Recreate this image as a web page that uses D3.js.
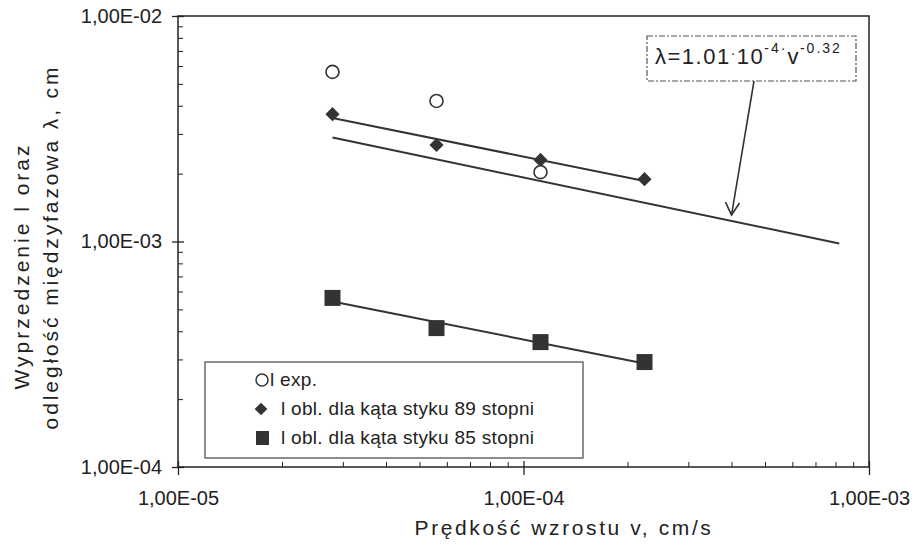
<!DOCTYPE html>
<html>
<head>
<meta charset="utf-8">
<script src="https://cdn.jsdelivr.net/npm/d3@7"></script>
<style>
  html, body { margin: 0; padding: 0; background: #fff; }
  svg { display: block; font-family: Arial, "Liberation Sans", sans-serif; }
</style>
</head>
<body>
<svg id="chart" width="916" height="544"></svg>
<script>
// ---- data ----
const velocities = [2.8e-5, 5.6e-5, 1.12e-4, 2.24e-4];      // v, cm/s
const lExp = [5.65e-3, 4.2e-3, 2.03e-3];                    // l exp. (first three v)
const lCalc89 = [3.67e-3, 2.68e-3, 2.30e-3, 1.89e-3];       // l obl. 89 stopni
const lCalc85 = [5.62e-4, 4.13e-4, 3.58e-4, 2.92e-4];       // l obl. 85 stopni
const modelV = [2.8e-5, 8.2e-4];                            // λ = 1.01e-4 v^-0.32 line ends
const modelLambda = [2.89e-3, 9.8e-4];
const arrowTip = [4.0e-4, 1.31e-3];
const xTicks = [1e-5, 1e-4, 1e-3];
const xTickLabels = ["1,00E-05", "1,00E-04", "1,00E-03"];
const yTicks = [1e-4, 1e-3, 1e-2];
const yTickLabels = ["1,00E-04", "1,00E-03", "1,00E-02"];
const legendLabels = ["l exp.", "l obl. dla kąta styku 89 stopni", "l obl. dla kąta styku 85 stopni"];
const xTitle = "Prędkość wzrostu v, cm/s";
const yTitle = ["Wyprzedzenie l oraz", "odległość międzyfazowa λ, cm"];

// ---- layout ----
const svg = d3.select("#chart");
const L = 178, R = 869, T = 16, B = 467;
const ink = "#222";
const x = d3.scaleLog().domain([1e-5, 1e-3]).range([L, R]);
const y = d3.scaleLog().domain([1e-4, 1e-2]).range([B, T]);

// minor ticks
const minorX = [], minorY = [];
[1e-5, 1e-4].forEach(d => { for (let k = 2; k <= 9; k++) minorX.push(d * k); });
[1e-4, 1e-3].forEach(d => { for (let k = 2; k <= 9; k++) minorY.push(d * k); });

// frame
svg.append("rect").attr("x", L).attr("y", T).attr("width", R - L).attr("height", B - T)
  .attr("fill", "none").attr("stroke", ink).attr("stroke-width", 1.5);

// x axis
const gx = svg.append("g").attr("transform", `translate(0,${B})`)
  .call(d3.axisBottom(x).tickValues(xTicks).tickFormat((d, i) => xTickLabels[i])
    .tickSizeInner(8).tickSizeOuter(0).tickPadding(16));
gx.select(".domain").remove();
gx.selectAll(".tick line").attr("y1", -6).attr("y2", 8).attr("stroke", ink).attr("stroke-width", 1.3);
gx.selectAll(".tick text").attr("font-size", 20).attr("fill", ink).attr("font-family", "Arial, 'Liberation Sans', sans-serif");
const gxm = svg.append("g").attr("transform", `translate(0,${B})`)
  .call(d3.axisBottom(x).tickValues(minorX).tickFormat("").tickSizeInner(-5).tickSizeOuter(0));
gxm.select(".domain").remove();
gxm.selectAll(".tick line").attr("stroke", ink);

// y axis
const gy = svg.append("g").attr("transform", `translate(${L},0)`)
  .call(d3.axisLeft(y).tickValues(yTicks).tickFormat((d, i) => yTickLabels[i])
    .tickSizeInner(6).tickSizeOuter(0).tickPadding(10));
gy.select(".domain").remove();
gy.selectAll(".tick line").attr("x1", 6).attr("x2", -6).attr("stroke", ink).attr("stroke-width", 1.3);
gy.selectAll(".tick text").attr("font-size", 20).attr("fill", ink).attr("font-family", "Arial, 'Liberation Sans', sans-serif");
const gym = svg.append("g").attr("transform", `translate(${L},0)`)
  .call(d3.axisLeft(y).tickValues(minorY).tickFormat("").tickSizeInner(-5).tickSizeOuter(0));
gym.select(".domain").remove();
gym.selectAll(".tick line").attr("stroke", ink);

// axis titles
svg.append("text").attr("x", 564).attr("y", 535).attr("text-anchor", "middle")
  .attr("font-size", 21).attr("letter-spacing", 2.6).attr("fill", ink).text(xTitle);
svg.append("text").attr("transform", "translate(29,266) rotate(-90)").attr("text-anchor", "middle")
  .attr("font-size", 21).attr("letter-spacing", 3).attr("fill", ink).text(yTitle[0]);
svg.append("text").attr("transform", "translate(58,247) rotate(-90)").attr("text-anchor", "middle")
  .attr("font-size", 21).attr("letter-spacing", 2.9).attr("fill", ink).text(yTitle[1]);

// power trend (least squares in log-log space)
function powerFit(xs, ys) {
  const lx = xs.map(Math.log10), ly = ys.map(Math.log10);
  const mx = d3.mean(lx), my = d3.mean(ly);
  const b = d3.sum(lx.map((v, i) => (v - mx) * (ly[i] - my))) / d3.sum(lx.map(v => (v - mx) ** 2));
  const a = my - b * mx;
  const ends = [xs[0], xs[xs.length - 1]];
  return ends.map(v => [v, Math.pow(10, a + b * Math.log10(v))]);
}
const line = d3.line().x(d => x(d[0])).y(d => y(d[1]));
const lineColor = "#333";

// model line
svg.append("path").datum(modelV.map((v, i) => [v, modelLambda[i]]))
  .attr("d", line).attr("fill", "none").attr("stroke", lineColor).attr("stroke-width", 2);
// fit lines
svg.append("path").datum(powerFit(velocities, lCalc89))
  .attr("d", line).attr("fill", "none").attr("stroke", lineColor).attr("stroke-width", 2);
svg.append("path").datum(powerFit(velocities, lCalc85))
  .attr("d", line).attr("fill", "none").attr("stroke", lineColor).attr("stroke-width", 2);

// markers
const markColor = "#333";
svg.selectAll(".diamond").data(velocities.map((v, i) => [v, lCalc89[i]])).enter()
  .append("path").attr("class", "diamond")
  .attr("transform", d => `translate(${x(d[0])},${y(d[1])}) rotate(45)`)
  .attr("d", "M-5,-5H5V5H-5Z").attr("fill", markColor);
svg.selectAll(".square").data(velocities.map((v, i) => [v, lCalc85[i]])).enter()
  .append("rect").attr("class", "square")
  .attr("x", d => x(d[0]) - 8).attr("y", d => y(d[1]) - 8)
  .attr("width", 16).attr("height", 16).attr("fill", markColor);
svg.selectAll(".circ").data(lExp.map((l, i) => [velocities[i], l])).enter()
  .append("circle").attr("class", "circ")
  .attr("cx", d => x(d[0])).attr("cy", d => y(d[1])).attr("r", 6.5)
  .attr("fill", "#fff").attr("stroke", markColor).attr("stroke-width", 1.6);

// annotation box + arrow
svg.append("rect").attr("x", 647).attr("y", 36).attr("width", 209).attr("height", 45)
  .attr("fill", "#fff").attr("stroke", "#555").attr("stroke-width", 1.2).attr("stroke-dasharray", "6,2,2,2");
const ann = svg.append("text").attr("x", 655).attr("y", 64).attr("font-size", 22)
  .attr("letter-spacing", 1.5).attr("fill", ink);
ann.append("tspan").text("λ=1.01");
ann.append("tspan").attr("font-size", 14).attr("dy", -6).text("·");
ann.append("tspan").attr("dy", 6).text("10");
ann.append("tspan").attr("font-size", 14).attr("dy", -11).attr("letter-spacing", 2).text("-4·");
ann.append("tspan").attr("dy", 11).text("v");
ann.append("tspan").attr("font-size", 14).attr("dy", -11).attr("letter-spacing", 2).text("-0.32");

const tx = x(arrowTip[0]), ty = y(arrowTip[1]);
svg.append("line").attr("x1", 754).attr("y1", 81).attr("x2", tx).attr("y2", ty)
  .attr("stroke", lineColor).attr("stroke-width", 1.6);
svg.append("path").attr("d", `M${tx - 6},${ty - 13}L${tx},${ty}L${tx + 8},${ty - 12}`)
  .attr("fill", "none").attr("stroke", lineColor).attr("stroke-width", 1.6);

// legend
svg.append("rect").attr("x", 205).attr("y", 362).attr("width", 378).attr("height", 96)
  .attr("fill", "#fff").attr("stroke", "#444").attr("stroke-width", 1.2);
svg.append("circle").attr("cx", 262).attr("cy", 380).attr("r", 6)
  .attr("fill", "#fff").attr("stroke", markColor).attr("stroke-width", 1.5);
svg.append("path").attr("transform", "translate(261,409) rotate(45)")
  .attr("d", "M-4.5,-4.5H4.5V4.5H-4.5Z").attr("fill", markColor);
svg.append("rect").attr("x", 256).attr("y", 431).attr("width", 13).attr("height", 14).attr("fill", markColor);
const legX = [270, 281, 281], legY = [386, 415, 444];
legendLabels.forEach((t, i) => {
  svg.append("text").attr("x", legX[i]).attr("y", legY[i]).attr("font-size", 19)
    .attr("letter-spacing", 0.3).attr("fill", ink).text(t);
});
</script>
</body>
</html>
